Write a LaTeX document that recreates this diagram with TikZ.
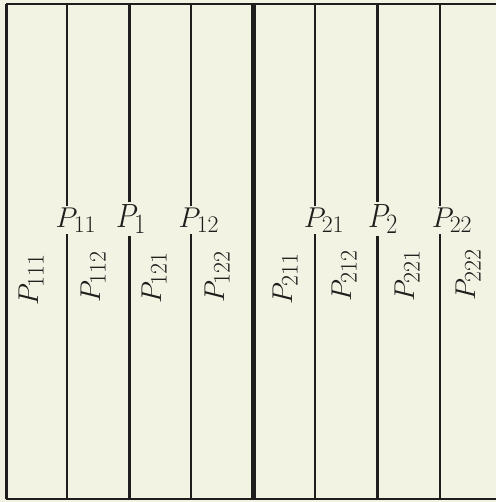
\documentclass[tikz,border=0pt]{standalone}
\definecolor{bg}{RGB}{243,243,228}
\definecolor{ink}{RGB}{30,30,28}
\tikzset{
  lbl/.style={font=\Huge, inner xsep=0pt, inner ysep=1.5pt, text=ink, scale=1.15, transform shape},
  toplbl/.style={font=\Huge, inner xsep=0pt, inner ysep=1.5pt, text=ink, xscale=1.15, yscale=1.35, transform shape},
  sidelbl/.style={lbl, rotate=90},
  thin/.style={draw=ink, line width=1.6pt},
  thick/.style={draw=ink, line width=3pt},
  heavy/.style={draw=ink, line width=5pt},
}
\begin{document}
\begin{tikzpicture}[x=1pt,y=1pt]
\fill[bg] (0,0) rectangle (496,502);
\useasboundingbox (0,0) rectangle (496,502);
% corners / line ends
\coordinate (TL) at (6,497.5);
\coordinate (TR) at (496,497.5);
\coordinate (BL) at (6,2.5);
\coordinate (BR) at (496,2.5);
\foreach \n/\x in {a/67,b/129,c/191,d/253,e/315,f/377,g/440}{
  \coordinate (t\n) at (\x,497.5);
  \coordinate (b\n) at (\x,2.5);
}
% labels on lines
\node[lbl]    (P11) at (76,282) {$P_{11}$};
\node[toplbl] (P1)  at (131,283) {$P_{1}$};
\node[lbl]    (P12) at (199,282) {$P_{12}$};
\node[lbl]    (P21) at (324,282) {$P_{21}$};
\node[toplbl] (P2)  at (383,283) {$P_{2}$};
\node[lbl]    (P22) at (452,282) {$P_{22}$};
% rotated labels
\node[sidelbl] (P111) at (31,222) {$P_{111}$};
\node[sidelbl] (P112) at (93,225) {$P_{112}$};
\node[sidelbl] (P121) at (154,224) {$P_{121}$};
\node[sidelbl] (P122) at (217,225) {$P_{122}$};
\node[sidelbl] (P211) at (285,223) {$P_{211}$};
\node[sidelbl] (P212) at (344,226) {$P_{212}$};
\node[sidelbl] (P221) at (407,226) {$P_{221}$};
\node[sidelbl] (P222) at (468,227) {$P_{222}$};
% frame
\draw[thin, line width=2pt] (TL) -- (TR);
\draw[thin, line width=2pt] (BL) -- (BR);
\draw[thick] (TL) -- (BL);
\draw[heavy] (td) -- (bd);
% divided lines
\draw[thin]  (ta) -- (P11.north -| ta);  \draw[thin]  (P11.south -| ta) -- (ba);
\draw[thick] (tb) -- (P1.north -| tb);   \draw[thick] (P1.south -| tb) -- (bb);
\draw[thin]  (tc) -- (P12.north -| tc);  \draw[thin]  (P12.south -| tc) -- (bc);
\draw[thin]  (te) -- (P21.north -| te);  \draw[thin]  (P21.south -| te) -- (be);
\draw[thick] (tf) -- (P2.north -| tf);   \draw[thick] (P2.south -| tf) -- (bf);
\draw[thin]  (tg) -- (P22.north -| tg);  \draw[thin]  (P22.south -| tg) -- (bg);
\end{tikzpicture}
\end{document}
